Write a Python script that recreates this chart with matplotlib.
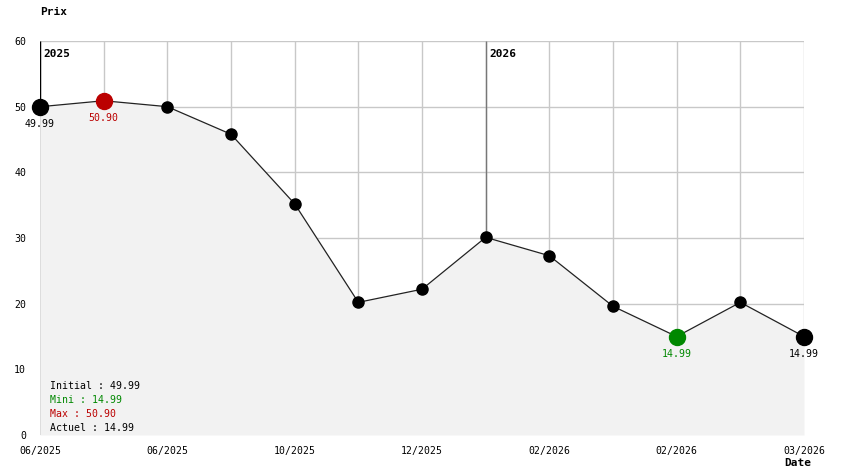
import matplotlib
matplotlib.use("Agg")
import matplotlib.pyplot as plt

# --- Data ---
prices = [49.99, 50.90, 50.0, 45.8, 35.2, 20.2, 22.2, 30.1, 27.3, 19.6, 14.99, 20.2, 14.99]
tick_pos = [0, 2, 4, 6, 8, 10, 12]
tick_labels = ["06/2025", "06/2025", "10/2025", "12/2025", "02/2026", "02/2026", "03/2026"]
year_pos = [0, 7]
year_labels = ["2025", "2026"]
summary = [("Initial : 49.99", "black"),
           ("Mini : 14.99", "#008800"),
           ("Max : 50.90", "#bb0000"),
           ("Actuel : 14.99", "black")]

RED = "#bb0000"
GREEN = "#008800"

plt.rcParams["font.family"] = ["DejaVu Sans Mono"]
plt.rcParams["font.size"] = 7.1

fig = plt.figure(figsize=(8.44, 4.74), dpi=100)
ax = fig.add_axes([40 / 844, 39 / 474, 764 / 844, 394 / 474])

x = list(range(len(prices)))

# grid
ax.grid(True, color="#c8c8c8", linewidth=1, zorder=0)
ax.set_axisbelow(True)

# year separators (from top down to the curve)
for xp, lab in zip(year_pos, year_labels):
    col = "black" if xp == 0 else "#777777"
    ax.vlines(xp, prices[xp], 60, color=col, linewidth=1, zorder=1)
    ax.text(xp + 0.06, 58.8, lab, fontweight="bold", fontsize=8, va="top", ha="left", zorder=5)

# filled area + line
ax.fill_between(x, prices, 0, color="#f2f2f2", zorder=2, linewidth=0)
ax.plot(x, prices, color="#222222", linewidth=0.9, zorder=3)

i_min = prices.index(min(prices))
i_max = prices.index(max(prices))
for i, p in enumerate(prices):
    big = i in (0, len(prices) - 1, i_min, i_max)
    col = RED if i == i_max else GREEN if i == i_min else "black"
    ax.plot(i, p, "o", color=col, markersize=11.5 if big else 8, zorder=4, clip_on=False)
    if big:
        ax.text(i, p - 1.9, f"{p:.2f}", color=col, ha="center", va="top", zorder=5)

# summary text
for k, (txt, col) in enumerate(summary):
    ax.text(0.16, 7.5 - k * 2.13, txt, color=col, ha="left", va="center", zorder=5)

ax.set_xlim(0, 12)
ax.set_ylim(0, 60)
ax.set_xticks(x)
ax.set_xticklabels(["" for _ in x])
ax.set_yticks([0, 10, 20, 30, 40, 50, 60])
ax.tick_params(length=0, pad=10)
for xp, lab in zip(tick_pos, tick_labels):
    ax.text(xp, -2.4, lab, ha="center", va="center")
for s in ax.spines.values():
    s.set_visible(False)

fig.text(40 / 844, 1 - 12 / 474, "Prix", fontweight="bold", fontsize=8, ha="left", va="center")
fig.text(811 / 844, 1 - 463 / 474, "Date", fontweight="bold", fontsize=8, ha="right", va="center")

fig.savefig("out.png", dpi=100)
